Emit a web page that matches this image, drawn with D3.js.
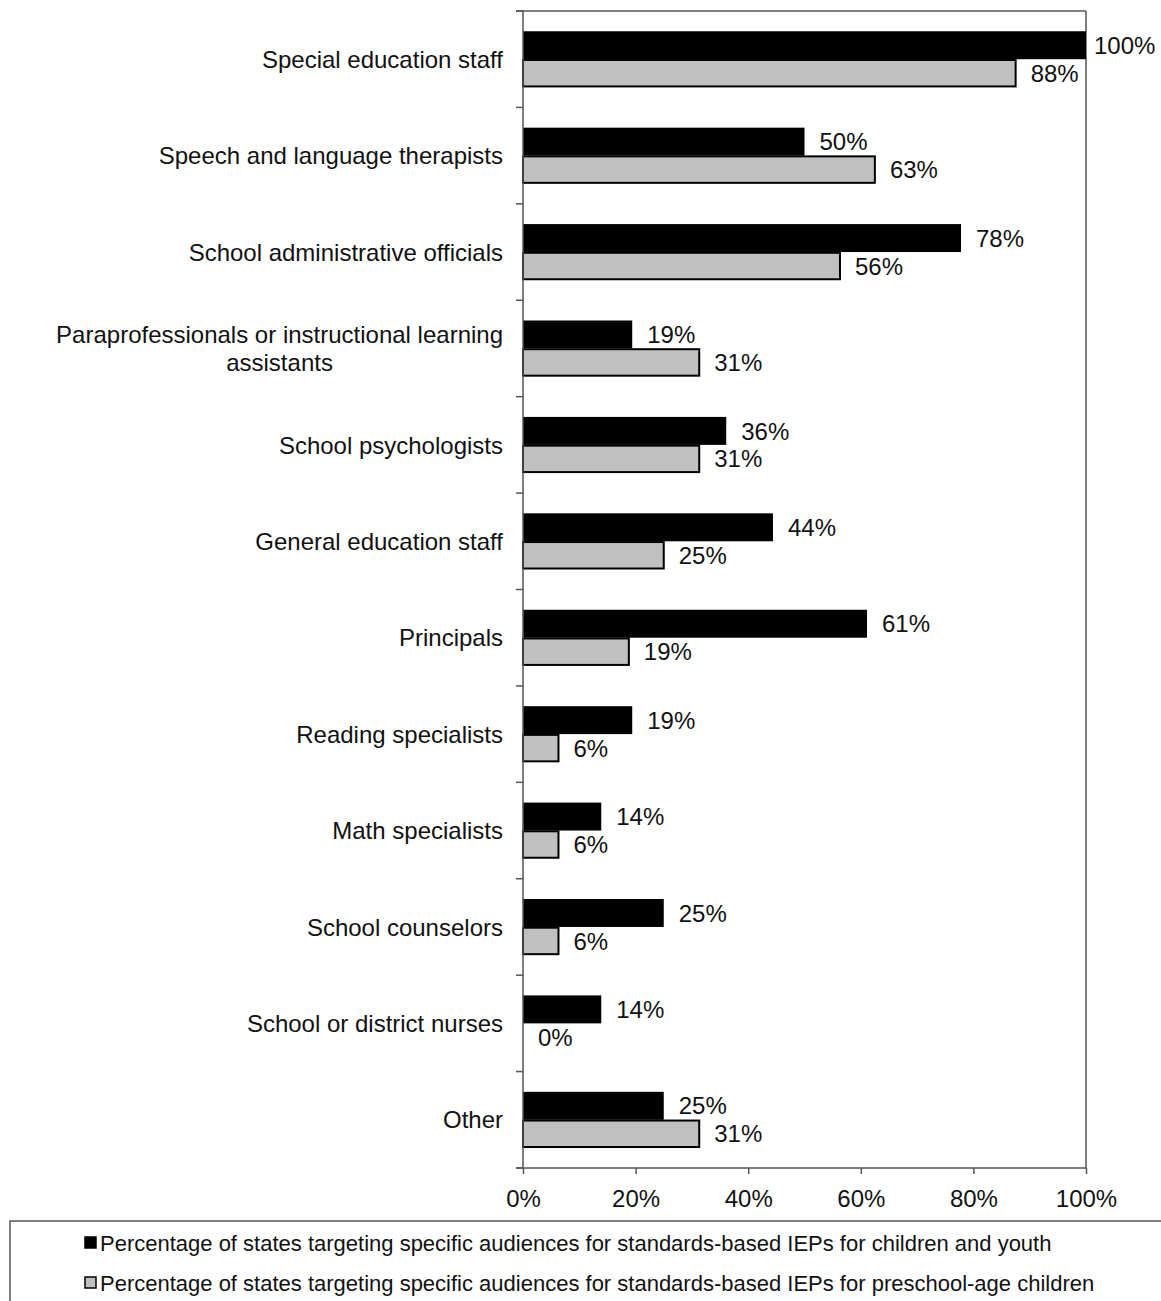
<!DOCTYPE html>
<html>
<head>
<meta charset="utf-8">
<script src="https://cdn.jsdelivr.net/npm/d3@7"></script>
<style>
  body { margin: 0; background: #fff; }
  svg { display: block; font-family: "Liberation Sans", Arial, sans-serif; }
</style>
</head>
<body>
<svg id="chart" width="1161" height="1301"></svg>
<script>
const categories = [
  "Special education staff",
  "Speech and language therapists",
  "School administrative officials",
  "Paraprofessionals or instructional learning|assistants",
  "School psychologists",
  "General education staff",
  "Principals",
  "Reading specialists",
  "Math specialists",
  "School counselors",
  "School or district nurses",
  "Other"
];
const childrenYouth = [100, 50, 77.8, 19.4, 36.1, 44.4, 61.1, 19.4, 13.9, 25, 13.9, 25];
const preschool = [87.5, 62.5, 56.3, 31.3, 31.3, 25, 18.8, 6.3, 6.3, 6.3, 0, 31.3];
const xTicks = [0, 20, 40, 60, 80, 100];
const seriesNames = [
  "Percentage of states targeting specific audiences for standards-based IEPs for children and youth",
  "Percentage of states targeting specific audiences for standards-based IEPs for preschool-age children"
];
const seriesKeys = ["cy", "ps"];
const seriesFill = { cy: "#000000", ps: "#c0c0c0" };

const data = categories.map((c, i) => ({ cat: c, cy: childrenYouth[i], ps: preschool[i] }));

const svg = d3.select("#chart");
const pLeft = 523, pRight = 1086, pTop = 11, pBottom = 1168;
const FS = 24;

const x = d3.scaleLinear().domain([0, 100]).range([pLeft, pRight]);
const y = d3.scaleBand().domain(categories).range([pTop, pBottom]).paddingInner(0.42).paddingOuter(0.21);
const ySub = d3.scaleBand().domain(seriesKeys).range([0, y.bandwidth()]);
const step = y.step();

// frame: top and right borders
svg.append("line").attr("x1", pLeft - 7).attr("x2", pRight).attr("y1", pTop).attr("y2", pTop)
  .attr("stroke", "#555").attr("stroke-width", 1.5);
svg.append("line").attr("x1", pRight).attr("x2", pRight).attr("y1", pTop).attr("y2", pBottom)
  .attr("stroke", "#555").attr("stroke-width", 1.5);

// bars
const g = svg.append("g");
data.forEach(d => {
  seriesKeys.forEach(k => {
    const yy = y(d.cat) + ySub(k);
    if (k === "cy") {
      g.append("rect").attr("x", x(0)).attr("y", yy).attr("width", x(d[k]) - x(0))
        .attr("height", ySub.bandwidth()).attr("fill", seriesFill[k]);
    } else if (d[k] > 0) {
      g.append("rect").attr("x", x(0)).attr("y", yy + 0.75).attr("width", x(d[k]) - x(0))
        .attr("height", ySub.bandwidth() - 1.5).attr("fill", seriesFill[k])
        .attr("stroke", "#000").attr("stroke-width", 2);
    }
    const lx = Math.min(x(d[k]) + 15, x(100) + 8);
    g.append("text").attr("x", lx).attr("y", yy + ySub.bandwidth() / 2)
      .attr("dy", "0.36em").attr("font-size", FS).attr("fill", "#111")
      .text(Math.round(d[k]) + "%");
  });
});

// y axis line and ticks at band boundaries
svg.append("line").attr("x1", pLeft).attr("x2", pLeft).attr("y1", pTop).attr("y2", pBottom)
  .attr("stroke", "#555").attr("stroke-width", 1.5);
d3.range(categories.length + 1).forEach(i => {
  const yy = pTop + i * step;
  svg.append("line").attr("x1", pLeft - 7).attr("x2", pLeft).attr("y1", yy).attr("y2", yy)
    .attr("stroke", "#555").attr("stroke-width", 1.5);
});

// category labels
data.forEach(d => {
  const parts = d.cat.split("|");
  const cy = y(d.cat) + y.bandwidth() / 2;
  const lh = 28;
  const t0 = cy - (parts.length - 1) * lh / 2;
  const first = svg.append("text").attr("x", pLeft - 20).attr("y", t0).attr("dy", "0.36em")
    .attr("text-anchor", "end").attr("font-size", FS).attr("fill", "#111").text(parts[0]);
  if (parts.length > 1) {
    const w = first.node().getComputedTextLength();
    for (let j = 1; j < parts.length; j++) {
      svg.append("text").attr("x", pLeft - 20 - w / 2).attr("y", t0 + j * lh).attr("dy", "0.36em")
        .attr("text-anchor", "middle").attr("font-size", FS).attr("fill", "#111").text(parts[j]);
    }
  }
});

// x axis
const xAxis = d3.axisBottom(x).tickValues(xTicks).tickFormat(d => d + "%").tickSize(6).tickSizeOuter(0);
const ax = svg.append("g").attr("transform", `translate(0,${pBottom})`).call(xAxis);
ax.select(".domain").attr("stroke", "#555").attr("stroke-width", 1.5)
  .attr("d", `M${pLeft - 7},0H${pRight}`);
ax.selectAll(".tick line").attr("stroke", "#555").attr("stroke-width", 1.5);
ax.selectAll(".tick text").attr("font-size", FS).attr("fill", "#111").attr("y", 22)
  .attr("font-family", "'Liberation Sans', Arial, sans-serif");

// legend
svg.append("rect").attr("x", 10).attr("y", 1221).attr("width", 1170).attr("height", 100)
  .attr("fill", "none").attr("stroke", "#555").attr("stroke-width", 1.5);
seriesKeys.forEach((k, i) => {
  const ly = 1243 + i * 40;
  svg.append("rect").attr("x", 85).attr("y", ly - 6).attr("width", 11).attr("height", 11)
    .attr("fill", seriesFill[k]).attr("stroke", "#000").attr("stroke-width", 1.5);
  svg.append("text").attr("x", 100).attr("y", ly).attr("dy", "0.36em")
    .attr("font-size", 22).attr("fill", "#111").text(seriesNames[i]);
});
</script>
</body>
</html>
